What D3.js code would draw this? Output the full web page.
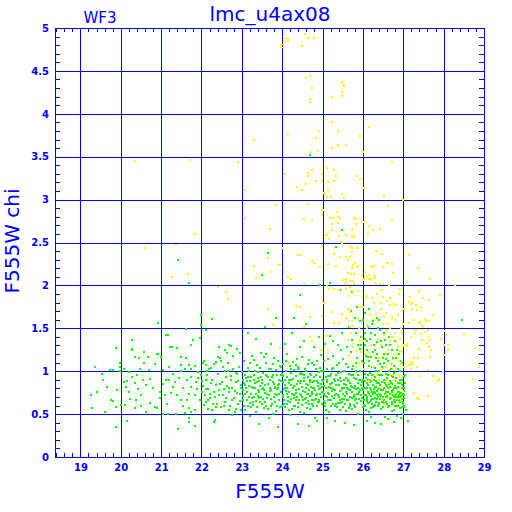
<head>
  <script src="https://d3js.org/d3.v7.min.js"></script>
  <style>
    body { margin: 0; background: #fff; }
    text { fill: #0000ff; }
  </style>
</head>
<body>
<script>
// ---- data ----
const xTicks = [19, 20, 21, 22, 23, 24, 25, 26, 27, 28, 29];
const yTicks = [0, 0.5, 1, 1.5, 2, 2.5, 3, 3.5, 4, 4.5, 5];
const yTickLabels = ['0', '0.5', '1', '1.5', '2', '2.5', '3', '3.5', '4', '4.5', '5'];

const greenPts = [
 [19.25,0.72],[19.37,1.05],[19.40,0.76],[19.28,0.57],[19.54,0.97],[19.56,0.90],[19.65,0.82],[19.74,1.01],[19.80,1.01],
 [19.75,0.66],[19.80,0.65],[19.87,0.58],[19.62,0.52],[19.87,0.35],[19.90,0.78],[19.88,1.27],[19.98,1.09],[19.99,1.05],
 [19.98,1.00],[20.08,1.02],[20.20,0.99],[20.28,1.25],[20.29,0.93],[20.16,0.89],[20.08,0.87],[20.14,0.82],[20.11,0.61],
 [20.01,0.61],[20.16,0.42],[20.24,0.68],[20.34,0.86],[20.34,1.17],[20.44,1.15],[20.57,1.22],[20.67,1.17],[20.57,1.10],
 [20.47,1.03],[20.39,0.95],[20.54,0.90],[20.62,0.84],[20.42,0.79],[20.37,0.66],[20.50,0.59],[20.62,0.52],[20.36,0.57],
 [20.71,1.01],[20.72,0.91],[20.72,0.63],[20.85,1.08],[20.90,1.20],[20.99,1.17],[21.13,1.42],[21.23,1.28],[21.40,1.27],
 [21.04,1.01],[21.12,0.90],[20.96,0.76],[21.09,0.72],[20.96,0.69],[20.89,0.57],[20.84,0.58],[21.04,0.50],[21.16,0.50],
 [21.37,0.50],[21.42,0.33],[21.30,0.97],[21.35,0.87],[21.30,0.82],[21.40,0.72],[21.50,0.67],[21.53,0.81],[21.50,1.00],
 [21.48,1.07],[21.62,1.15],[21.73,1.31],[21.78,1.36],[21.96,1.39],[21.70,1.07],[21.73,1.02],[21.85,1.06],[21.91,0.99],
 [21.75,0.93],[21.63,0.90],[21.87,0.87],[21.75,0.82],[21.90,0.79],[21.70,0.74],[21.83,0.72],[21.63,0.66],[21.96,0.66],
 [21.70,0.57],[21.73,0.52],[21.58,0.51],[21.70,0.45],[21.70,0.41],[21.83,0.36],[22.03,1.09],[22.11,1.07],[22.23,1.04],
 [22.13,1.00],[21.99,0.95],[22.11,0.90],[22.23,0.86],[22.04,0.83],[22.15,0.79],[22.30,0.76],[22.01,0.76],[22.08,0.72],
 [22.20,0.69],[22.11,0.64],[22.28,0.62],[22.36,0.58],[22.16,0.56],[22.33,0.43],[22.41,1.17],[22.49,1.12],[22.36,1.11],
 [22.44,1.28],[22.57,1.25],[22.64,1.21],[22.69,1.31],[22.74,1.29],[22.89,1.26],[22.96,1.21],[22.53,1.05],[22.66,1.00],
 [22.79,1.03],[22.89,0.97],[22.60,0.93],[22.73,0.90],[22.86,0.87],[22.97,0.84],[22.46,0.85],[22.56,0.79],[22.69,0.81],
 [22.82,0.77],[22.95,0.74],[22.44,0.72],[22.61,0.69],[22.76,0.66],[22.91,0.62],[22.55,0.60],[22.69,0.55],[22.86,0.56],
 [22.99,0.55],[22.76,0.49],[22.31,0.41],
 [21.05,0.85],[21.15,0.62],[21.20,1.05],[21.25,0.75],[21.45,0.92],[21.55,0.60],[21.60,1.02],[21.85,0.55],[21.92,0.92],
 [21.20,0.90],[20.80,0.80],[20.50,0.72],[20.20,0.76],
 [20.91,1.56],[21.16,1.42],[21.62,1.49],[21.80,1.36],[22.10,1.48],[21.98,1.66],[21.98,1.54],[21.70,2.03],[20.28,1.36],
 [20.28,1.26],[21.26,1.28],[20.91,1.20],[21.50,1.17],[21.42,2.30],[22.00,1.66],[22.26,1.61],
 [23.66,2.38],[23.49,2.12],[24.68,3.52],[25.48,2.64],[25.34,2.45],[24.94,2.00],[25.18,2.03],[25.43,1.95],[24.44,1.89],
 [25.74,1.92],[28.46,1.60],
 [22.02,0.88],[22.05,0.61],[22.07,1.12],[22.10,0.79],[22.14,0.95],[22.17,0.67],[22.19,1.02],[22.22,0.74],[22.25,0.55],
 [22.27,0.90],[22.30,1.08],[22.33,0.70],[22.35,0.84],[22.38,0.62],[22.40,0.97],[22.43,0.78],[22.46,1.15],[22.48,0.58],
 [22.51,0.87],[22.54,0.72],[22.57,1.00],[22.59,0.64],[22.62,0.83],[22.65,1.10],[22.67,0.76],[22.70,0.60],[22.72,0.94],
 [22.75,0.81],[22.78,1.18],[22.80,0.69],[22.83,0.52],[22.85,0.98],[22.88,0.75],[22.90,0.88],[22.93,1.05],[22.95,0.65],
 [22.98,0.80],
 [23.02,0.78],[23.05,1.12],[23.08,0.55],[23.10,0.92],[23.12,0.67],[23.15,1.04],[23.18,0.83],[23.20,0.48],[23.22,0.74],
 [23.25,1.18],[23.27,0.61],[23.30,0.95],[23.32,0.86],[23.35,0.52],[23.37,1.07],[23.40,0.71],[23.42,0.89],[23.45,0.64],
 [23.47,1.21],[23.50,0.79],[23.52,0.98],[23.55,0.57],[23.57,0.84],[23.60,1.10],[23.62,0.69],[23.65,0.93],[23.67,0.45],
 [23.70,0.77],[23.72,1.02],[23.75,0.62],[23.77,0.87],[23.80,1.15],[23.82,0.73],[23.85,0.54],[23.87,0.96],[23.90,0.81],
 [23.92,0.66],[23.95,1.06],[23.97,0.88],[23.03,0.66],[23.07,0.95],[23.11,0.81],[23.14,0.59],[23.17,1.00],[23.21,0.88],
 [23.24,0.69],[23.28,0.80],[23.31,1.13],[23.34,0.73],[23.38,0.58],[23.41,0.99],[23.44,0.83],[23.48,0.70],[23.51,0.90],
 [23.54,1.16],[23.58,0.75],[23.61,0.60],[23.64,0.85],[23.68,1.03],[23.71,0.68],[23.74,0.93],[23.78,0.50],[23.81,0.82],
 [23.84,1.01],[23.88,0.72],[23.91,0.90],[23.94,0.58],[23.98,0.76],[23.15,1.45],[23.35,1.38],[23.58,1.52],[23.72,1.32],
 [23.85,1.62],[23.42,0.38],[23.90,0.35],[23.06,0.86],[23.19,0.63],[23.29,0.90],[23.39,0.78],[23.49,0.62],[23.59,0.96],
 [23.69,0.80],[23.79,0.70],[23.89,0.84],[23.99,0.97],
 [23.01,0.99],[23.04,0.71],[23.06,0.60],[23.09,0.84],[23.13,0.76],[23.16,0.93],[23.19,1.09],[23.23,0.58],[23.26,0.82],
 [23.29,0.70],[23.33,1.00],[23.36,0.65],[23.39,0.92],[23.43,0.76],[23.46,1.04],[23.49,0.86],[23.53,0.68],[23.56,0.78],
 [23.59,1.20],[23.63,0.73],[23.66,0.56],[23.69,0.90],[23.73,0.78],[23.76,1.08],[23.79,0.85],[23.83,0.64],[23.86,0.79],
 [23.89,1.12],[23.93,0.74],[23.96,0.95],[23.99,0.60],[23.02,0.90],[23.08,0.74],[23.13,0.88],[23.18,0.70],[23.23,0.93],
 [23.28,0.64],[23.33,0.80],[23.38,0.87],[23.43,0.69],[23.48,0.93],[23.53,0.81],[23.58,0.64],[23.63,0.94],[23.68,0.72],
 [23.73,0.60],[23.78,0.96],[23.83,0.81],[23.88,0.60],[23.93,0.85],[23.98,1.05],
 [24.01,0.72],[24.03,1.08],[24.06,0.58],[24.08,0.90],[24.10,0.77],[24.13,1.20],[24.15,0.65],[24.18,0.86],[24.20,0.49],
 [24.22,0.98],[24.25,0.74],[24.27,1.11],[24.30,0.83],[24.32,0.60],[24.35,0.94],[24.37,0.70],[24.40,1.05],[24.42,0.79],
 [24.45,0.53],[24.47,0.88],[24.50,1.17],[24.52,0.67],[24.55,0.92],[24.57,0.76],[24.60,1.00],[24.62,0.57],[24.65,0.84],
 [24.67,1.13],[24.70,0.71],[24.72,0.95],[24.75,0.62],[24.77,0.81],[24.80,1.07],[24.82,0.46],[24.85,0.89],[24.87,0.73],
 [24.90,0.99],[24.92,0.64],[24.95,0.85],[24.97,1.19],[24.02,0.87],[24.05,0.66],[24.09,1.00],[24.12,0.80],[24.16,0.55],
 [24.19,1.06],[24.23,0.68],[24.26,0.91],[24.29,0.59],[24.33,0.78],[24.36,1.14],[24.39,0.63],[24.43,0.97],[24.46,0.72],
 [24.49,0.82],[24.53,0.51],[24.56,1.03],[24.59,0.69],[24.63,0.93],[24.66,0.78],[24.69,0.56],[24.73,1.10],[24.76,0.87],
 [24.79,0.67],[24.83,0.96],[24.86,0.60],[24.89,0.83],[24.93,1.04],[24.96,0.70],[24.99,0.90],[24.04,0.79],[24.11,0.93],
 [24.14,0.70],[24.21,0.84],[24.24,0.56],[24.28,1.01],[24.34,0.75],[24.38,0.88],[24.41,0.66],[24.48,0.97],[24.51,0.77],
 [24.58,0.85],[24.61,0.74],[24.64,0.65],[24.68,0.90],[24.71,0.82],[24.74,0.74],[24.78,0.93],[24.81,0.78],[24.84,0.68],
 [24.88,0.86],[24.91,0.79],[24.94,0.74],[24.98,0.62],[24.07,1.32],[24.25,1.45],[24.40,0.38],[24.55,1.35],[24.66,0.36],
 [24.80,1.28],[24.92,1.40],[24.30,1.62],[24.60,1.55],[24.85,0.42],[24.44,1.28],
 [24.01,0.94],[24.04,0.62],[24.07,0.81],[24.10,1.12],[24.13,0.73],[24.17,0.90],[24.20,0.64],[24.23,1.03],[24.26,0.80],
 [24.30,0.69],[24.33,1.07],[24.36,0.85],[24.40,0.58],[24.43,0.74],[24.46,0.98],[24.50,0.61],[24.53,0.88],[24.56,0.68],
 [24.60,0.80],[24.63,1.08],[24.66,0.62],[24.70,0.97],[24.73,0.76],[24.76,0.59],[24.80,0.88],[24.83,0.72],[24.86,1.12],
 [24.90,0.66],[24.93,0.81],[24.96,1.00],[24.99,0.76],[24.03,0.70],[24.08,0.84],[24.13,0.62],[24.18,0.76],[24.23,0.90],
 [24.28,0.72],[24.33,0.66],[24.38,1.02],[24.43,0.86],[24.48,0.70],[24.53,0.95],[24.58,0.63],[24.63,0.74],[24.68,0.87],
 [24.73,0.66],[24.78,0.80],[24.83,1.02],[24.88,0.64],[24.93,0.93],[24.98,0.82],
 [25.01,0.76],[25.03,1.12],[25.05,0.59],[25.08,0.93],[25.10,0.70],[25.12,1.03],[25.15,0.82],[25.17,0.52],[25.20,0.97],
 [25.22,0.66],[25.25,1.18],[25.27,0.79],[25.30,0.60],[25.32,0.89],[25.35,1.07],[25.37,0.72],[25.40,0.84],[25.42,0.55],
 [25.45,0.99],[25.47,0.68],[25.50,1.14],[25.52,0.80],[25.55,0.62],[25.57,0.92],[25.60,0.74],[25.62,1.05],[25.65,0.57],
 [25.67,0.86],[25.70,1.22],[25.72,0.69],[25.75,0.95],[25.77,0.61],[25.80,0.83],[25.82,1.10],[25.85,0.73],[25.87,0.50],
 [25.90,0.90],[25.92,1.26],[25.95,0.65],[25.97,0.87],[25.02,0.88],[25.06,0.71],[25.09,0.55],[25.13,0.94],[25.16,0.67],
 [25.19,0.85],[25.23,1.02],[25.26,0.62],[25.29,0.91],[25.33,0.74],[25.36,0.58],[25.39,0.98],[25.43,0.77],[25.46,0.88],
 [25.49,0.64],[25.53,1.00],[25.56,0.71],[25.59,0.84],[25.63,0.66],[25.66,0.97],[25.69,0.78],[25.73,0.56],[25.76,1.06],
 [25.79,0.70],[25.83,0.91],[25.86,0.63],[25.89,0.80],[25.93,1.00],[25.96,0.72],[25.99,0.58],[25.04,0.65],[25.11,0.87],
 [25.14,0.75],[25.21,0.80],[25.24,0.71],[25.31,0.78],[25.34,0.95],[25.41,0.70],[25.44,0.63],[25.51,0.73],[25.54,0.90],
 [25.58,0.54],[25.61,0.80],[25.64,0.89],[25.68,0.70],[25.71,0.83],[25.74,0.76],[25.78,0.92],[25.81,0.67],[25.84,0.79],
 [25.88,0.95],[25.91,0.76],[25.94,0.84],[25.98,0.69],[25.05,1.32],[25.18,1.41],[25.30,0.42],[25.38,1.30],[25.48,1.45],
 [25.55,0.40],[25.60,1.28],[25.66,1.52],[25.72,1.36],[25.78,0.37],[25.84,1.44],[25.88,1.30],[25.93,1.58],[25.96,1.40],
 [25.45,1.25],[25.25,1.35],[25.12,0.45],[25.80,1.62],[25.70,1.70],[25.86,1.75],
 [25.01,1.00],[25.04,0.83],[25.07,0.63],[25.10,0.90],[25.13,1.14],[25.17,0.74],[25.20,0.60],[25.23,0.86],[25.27,1.04],
 [25.30,0.72],[25.33,0.62],[25.37,0.90],[25.40,1.10],[25.43,0.67],[25.47,0.80],[25.50,0.58],[25.53,0.85],[25.57,1.08],
 [25.60,0.66],[25.63,0.79],[25.67,0.62],[25.70,0.95],[25.73,0.82],[25.77,0.72],[25.80,0.58],[25.83,1.00],[25.87,0.86],
 [25.90,0.68],[25.93,0.78],[25.97,1.12],[25.03,0.73],[25.08,0.80],[25.13,0.66],[25.18,0.94],[25.23,0.77],[25.28,0.69],
 [25.33,0.84],[25.38,0.63],[25.43,0.92],[25.48,0.79],[25.53,0.68],[25.58,0.76],[25.63,0.90],[25.68,0.60],[25.73,1.02],
 [25.78,0.80],[25.83,0.68],[25.88,0.74],[25.93,0.90],[25.98,0.80],
 [26.01,0.78],[26.03,1.10],[26.05,0.60],[26.07,0.92],[26.09,0.70],[26.11,1.25],[26.13,0.84],[26.15,0.53],[26.17,0.98],
 [26.19,0.66],[26.21,1.16],[26.23,0.76],[26.25,0.58],[26.27,0.90],[26.29,1.04],[26.31,0.69],[26.33,0.82],[26.35,1.34],
 [26.37,0.60],[26.39,0.95],[26.41,0.73],[26.43,1.08],[26.45,0.56],[26.47,0.87],[26.49,0.65],[26.51,1.20],[26.53,0.80],
 [26.55,0.62],[26.57,0.97],[26.59,0.71],[26.61,1.12],[26.63,0.58],[26.65,0.85],[26.67,0.68],[26.69,1.02],[26.71,0.77],
 [26.73,0.54],[26.75,0.93],[26.77,0.66],[26.79,0.83],[26.81,1.15],[26.83,0.60],[26.85,0.79],[26.87,0.70],[26.89,0.96],
 [26.91,0.57],[26.93,0.86],[26.95,0.66],[26.97,0.75],[26.99,0.62],[27.01,0.80],[27.03,0.69],
 [26.02,0.67],[26.04,0.88],[26.06,1.30],[26.08,0.55],[26.10,0.81],[26.12,0.63],[26.14,1.06],[26.16,0.74],[26.18,0.87],
 [26.20,0.57],[26.22,0.95],[26.24,1.22],[26.26,0.68],[26.28,0.79],[26.30,0.61],[26.32,1.00],[26.34,0.72],[26.36,0.86],
 [26.38,1.12],[26.40,0.63],[26.42,0.80],[26.44,0.96],[26.46,0.71],[26.48,1.05],[26.50,0.58],[26.52,0.90],[26.54,0.74],
 [26.56,1.14],[26.58,0.64],[26.60,0.83],[26.62,0.95],[26.64,0.70],[26.66,0.59],[26.68,0.88],[26.70,1.08],[26.72,0.64],
 [26.74,0.78],[26.76,0.55],[26.78,0.98],[26.80,0.72],[26.82,0.88],[26.84,0.66],[26.86,1.02],[26.88,0.59],[26.90,0.76],
 [26.92,0.90],[26.94,0.71],[26.96,0.58],[26.98,0.84],[27.00,0.73],[27.02,0.60],[27.04,0.86],
 [26.03,0.72],[26.06,0.97],[26.10,0.65],[26.13,0.76],[26.16,0.90],[26.20,0.71],[26.23,0.62],[26.26,0.84],[26.30,0.75],
 [26.33,0.64],[26.36,0.77],[26.40,0.86],[26.43,0.68],[26.46,0.78],[26.50,0.70],[26.53,0.66],[26.56,0.84],[26.60,0.62],
 [26.63,0.76],[26.66,0.73],[26.70,0.69],[26.73,0.85],[26.76,0.70],[26.80,0.64],[26.83,0.74],[26.86,0.82],[26.90,0.66],
 [26.93,0.75],[26.96,0.68],[27.00,0.64],[27.03,0.77],
 [26.01,0.90],[26.03,0.61],[26.05,0.80],[26.07,1.18],[26.09,0.86],[26.11,0.68],[26.13,0.95],[26.15,1.12],[26.17,0.64],
 [26.19,0.78],[26.21,0.88],[26.23,1.05],[26.25,0.73],[26.27,0.60],[26.29,0.82],[26.31,0.93],[26.33,1.15],[26.35,0.68],
 [26.37,0.79],[26.39,0.62],[26.41,1.00],[26.43,0.84],[26.45,0.72],[26.47,0.96],[26.49,0.78],[26.51,0.63],[26.53,1.10],
 [26.55,0.86],[26.57,0.70],[26.59,0.92],[26.61,0.60],[26.63,0.81],[26.65,1.00],[26.67,0.74],[26.69,0.86],[26.71,0.62],
 [26.73,0.94],[26.75,0.72],[26.77,1.06],[26.79,0.60],[26.81,0.80],[26.83,0.92],[26.85,0.66],[26.87,0.86],[26.89,0.72],
 [26.91,1.00],[26.93,0.64],[26.95,0.80],[26.97,0.90],[26.99,0.72],[27.01,0.94],[27.03,0.58],
 [26.02,0.80],[26.07,0.72],[26.12,0.90],[26.17,0.80],[26.22,0.68],[26.27,0.76],[26.32,0.88],[26.37,0.70],[26.42,0.72],
 [26.47,0.64],[26.52,0.78],[26.57,0.76],[26.62,0.70],[26.67,0.82],[26.72,0.76],[26.77,0.80],[26.82,0.70],[26.87,0.76],
 [26.92,0.70],[26.97,0.80],[27.02,0.72],
 [25.85,1.15],[25.95,1.30],[26.05,1.38],[26.12,1.16],[26.20,1.45],[26.28,1.30],[26.35,1.20],[26.42,1.48],[26.48,1.28],
 [26.55,1.36],[26.62,1.20],[26.68,1.30],[26.75,1.15],[26.85,1.25],[26.92,1.12],[26.22,1.55],[26.40,1.60],[26.10,1.35],
 [26.30,1.25],[26.50,1.15],
 [26.05,1.45],[26.12,1.52],[26.18,1.38],[26.25,1.58],[26.30,1.42],[26.38,1.50],[26.45,1.35],[26.52,1.45],[26.58,1.30],
 [26.65,1.40],[26.72,1.25],[26.80,1.35],[26.90,1.20],[26.98,1.10],[26.10,0.42],[26.30,0.40],[26.45,0.38],[26.62,0.44],
 [26.78,0.41],[26.95,0.46],[27.00,0.50],[26.85,0.48],[26.55,0.47],[26.20,0.47],[26.05,1.68],[26.15,1.72],[26.00,1.60],
 [26.35,1.62],[27.06,0.55],[27.12,0.42],[27.05,0.95]
];

const yellowPts = [
 [24.56,4.93],[24.64,4.88],[24.80,4.88],[24.48,4.79],[24.70,4.44],[24.58,4.42],[24.75,4.30],[24.68,4.17],[24.68,4.14],
 [25.48,4.37],[25.52,4.33],[25.54,4.32],[25.49,4.25],[25.49,4.21],[25.23,4.20],[25.23,3.90],[25.38,3.80],[26.14,3.85],
 [24.90,3.80],[24.14,3.76],[23.29,3.69],[24.83,3.72],[25.92,3.74],[25.23,3.60],[25.39,3.64],[25.39,3.62],[25.57,3.64],
 [24.88,3.57],[24.68,3.55],[25.99,3.55],[23.06,3.11],[24.04,3.30],[24.65,3.31],[24.65,3.27],[24.75,3.35],[25.10,3.37],
 [25.29,3.35],[24.99,3.30],[25.34,3.28],[25.85,3.28],[25.92,3.24],[24.83,3.22],[24.99,3.22],[25.14,3.21],[25.28,3.22],
 [24.60,3.18],[24.37,3.15],[24.48,3.11],[25.14,3.11],[25.04,3.08],[25.49,3.07],[25.10,3.03],[25.20,3.03],[26.02,3.13],
 [25.52,3.02],[26.72,3.44],[26.53,3.04],[27.00,3.00],[23.84,2.94],[24.63,2.95],[26.63,2.93],[23.09,2.79],[25.01,2.88],
 [25.36,2.85],[25.39,2.80],[25.18,2.79],[25.26,2.78],[25.43,2.78],[24.55,2.77],[24.75,2.76],[24.98,2.82],[25.79,2.79],
 [25.82,2.77],[26.02,2.74],[25.82,2.72],[26.72,2.76],[25.24,2.72],[25.39,2.73],[26.14,2.69],[26.42,2.66],[26.25,2.65],
 [25.23,2.65],[25.72,2.65],[25.13,2.62],[25.57,2.59],[26.12,2.60],[23.69,2.66],[25.08,2.59],[25.72,2.58],[25.79,2.56],
 [25.41,2.58],[25.16,2.54],[25.43,2.51],[23.99,2.44],[24.98,2.46],[25.72,2.44],[25.85,2.44],
 [25.72,2.39],[26.32,2.40],[26.47,2.37],[24.37,2.36],[24.45,2.36],[23.94,2.24],[25.29,2.37],[25.13,2.25],[24.93,2.22],
 [24.75,2.29],[24.78,2.26],[25.43,2.33],[25.67,2.33],[25.62,2.30],[25.76,2.24],[25.33,2.23],[25.85,2.22],[25.72,2.20],
 [23.31,2.23],[26.04,2.16],[26.22,2.22],[26.25,2.22],[26.50,2.21],[26.60,2.26],[26.73,2.25],[27.15,2.36],[27.36,2.20],
 [27.66,2.08],[23.69,2.16],[23.36,2.09],[24.14,2.10],[24.23,2.08],[24.55,2.03],[25.59,2.08],[25.67,2.05],[25.76,2.05],
 [26.00,2.06],[26.15,2.07],[26.27,2.09],[25.97,2.12],[26.09,2.10],[25.56,2.02],[26.32,2.02],[26.42,2.02],[26.50,2.02],
 [26.65,2.00],[26.92,1.96],[27.10,2.04],[27.50,1.85],[25.11,1.99],[25.16,1.96],[25.28,1.96],[25.41,1.95],[25.57,1.96],
 [25.67,1.98],[25.76,1.93],[25.89,1.94],[25.66,1.88],[26.09,1.88],[26.22,1.85],[26.50,1.86],
 [25.47,2.50],[25.69,2.46],[25.87,2.44],[25.74,2.39],[25.57,2.33],[25.80,2.26],[25.89,2.23],[26.20,2.23],[26.27,2.23],
 [26.63,2.26],[26.75,2.14],[25.62,2.14],[25.71,2.13],[25.77,2.13],[26.15,2.12],[26.30,2.11],[25.51,2.06],[25.59,2.04],
 [25.79,2.02],[26.02,2.07],[26.19,2.07],[26.30,2.03],[28.27,2.01],[27.38,1.94],[27.64,1.83],[27.91,1.89],
 [28.51,1.43],[28.77,1.27],[28.87,1.05],[28.72,0.91],[28.11,1.31],[28.12,1.25],[28.07,1.42],[27.94,1.37],[27.66,1.36],
 [27.49,1.52],[27.61,1.48],[27.31,1.48],[27.44,1.43],[27.46,1.36],[27.18,1.40],[27.64,1.59],[27.74,1.66],[27.53,1.61],
 [27.41,1.57],[27.25,1.60],[27.13,1.56],[27.35,1.71],[27.21,1.73],[27.16,1.86],[27.13,1.81],[27.18,1.78],[27.43,1.75],
 [28.04,1.47],[28.02,1.30],[27.38,1.26],[27.26,1.15],[27.33,1.05],[27.10,1.29],[27.10,1.32],[27.61,1.01],[27.38,0.94],
 [27.76,0.94],[27.89,0.91],[27.99,0.99],[27.87,0.89],[27.74,0.94],[27.62,0.71],[27.38,0.68],[27.26,0.75],[27.18,1.08],
 [27.36,1.15],[27.66,1.17],[27.69,1.25],[27.64,1.28],[27.59,1.33],[28.12,1.30],[28.02,1.19],[27.20,1.03],[27.13,1.07],
 [20.36,3.45],[21.72,3.46],[22.91,3.44],[21.85,2.60],[20.61,2.44],[21.37,2.47],[23.64,2.32],[23.90,2.24],[21.27,2.10],
 [21.67,2.13],[22.40,1.98],[22.60,1.92],[22.66,1.84],[23.64,1.73],
 [23.77,1.54],[24.33,1.76],[24.45,1.75],[24.70,1.63],[24.98,1.64],[25.04,1.79],[24.53,1.51],[24.68,1.40],[25.08,1.41],
 [24.73,1.35],[24.96,1.25],[25.13,1.25],[23.94,1.27],[24.18,1.10],[25.21,1.69],[25.29,1.56],[25.41,1.56],[25.48,1.67],
 [25.64,1.73],[25.67,1.69],[25.59,1.61],[25.74,1.58],[25.76,1.53],[25.67,1.52],[25.62,1.36],[25.76,1.32],[25.84,1.24],
 [26.00,1.75],[26.44,1.80],[26.67,1.77],[26.83,1.77],[27.01,1.73],[27.21,1.80],[27.31,1.77],[27.39,1.56],[27.47,1.54],
 [27.57,1.59],[27.29,1.48],[27.28,1.44],[27.53,1.46],[27.63,1.40],[27.18,1.11],[27.24,1.08],[27.33,0.69],[26.10,1.54],
 [26.24,1.61],[26.33,1.67],[26.53,1.63],[26.59,1.48],[26.73,1.40],[26.83,1.34],[26.96,1.45],[26.99,1.29],[26.93,1.24],
 [26.30,0.72],[26.35,0.95],[26.40,1.15],[26.42,0.82],[26.45,1.30],[26.48,0.66],[26.50,1.02],[26.52,1.42],[26.55,0.78],
 [26.57,1.20],[26.60,0.90],[26.62,1.55],[26.64,0.70],[26.66,1.08],[26.68,1.35],[26.70,0.84],[26.72,1.62],[26.74,0.96],
 [26.76,1.18],[26.78,0.74],[26.80,1.45],[26.82,1.02],[26.84,0.88],[26.86,1.28],[26.88,0.68],[26.90,1.12],[26.92,0.80],
 [26.94,1.50],[26.96,0.93],[26.98,1.22],[27.00,0.76],[27.02,1.05],[26.20,1.30],[26.25,1.05],[26.15,0.88],[26.10,1.50],
 [26.05,1.20],[25.98,1.40],[25.92,1.10],[25.88,1.62],[25.85,0.98],[26.33,1.60],[26.38,1.38],[26.44,1.72],[26.58,1.68],
 [26.66,1.85],[26.74,1.40],[26.86,1.65],[26.92,1.38],[26.99,1.55],[26.46,1.00],[26.54,0.62],[26.61,1.25],[26.69,0.60],
 [26.77,0.90],[26.83,1.20],[26.89,0.95],[26.95,0.66],[27.03,1.30],[26.71,1.10],[26.63,0.86],[26.56,1.05],[26.49,1.18],
 [26.41,0.90],[26.28,1.18],[26.22,0.92],[26.12,1.22],[26.02,1.02],[25.95,1.75],[25.90,1.35],[26.08,1.85],[26.18,1.65],
 [26.27,1.80],[26.36,1.90],[26.48,1.95],[26.60,1.82],[26.78,1.78],[26.90,1.90],[26.96,1.75],[26.50,1.55],[26.80,1.60],
 [26.68,1.50],[26.75,1.02],[26.85,0.78],[26.94,1.08],[26.58,0.74],[26.66,0.96],[26.72,0.70],[26.98,0.86],[26.90,0.62],
 [25.65,1.18],[25.75,1.28],[25.82,1.05],[25.95,1.22],[25.70,1.45],[25.60,1.62],[25.90,1.50],[26.00,1.35]
];

// a few yellow points drawn as open squares
const yellowHollow = [[24.12,4.86],[24.00,4.79]];

// ---- layout ----
const W = 512, H = 512;
const pLeft = 55, pRight = 484, pTop = 28, pBottom = 457;

const svg = d3.select('body').append('svg')
  .attr('width', W).attr('height', H)
  .style('font-family', '"DejaVu Sans", sans-serif');

svg.append('rect').attr('width', W).attr('height', H).attr('fill', '#fff');

const x = d3.scaleLinear().domain([18.37, 29]).range([pLeft, pRight]);
const y = d3.scaleLinear().domain([0, 5]).range([pBottom, pTop]);

const blue = '#0000ff';

// grid lines
svg.append('g')
  .attr('transform', `translate(0,${pBottom})`)
  .call(d3.axisBottom(x).tickValues(xTicks).tickSize(-(pBottom - pTop)).tickFormat(''));
svg.append('g')
  .attr('transform', `translate(${pLeft},0)`)
  .call(d3.axisLeft(y).tickValues(yTicks).tickSize(-(pRight - pLeft)).tickFormat(''));

// minor ticks, all four sides
const minorX = d3.range(18.4, 29.001, 0.2);
const minorY = d3.range(0, 5.001, 0.1);
svg.append('g').attr('transform', `translate(0,${pBottom})`)
  .call(d3.axisBottom(x).tickValues(minorX).tickSize(-4).tickFormat(''));
svg.append('g').attr('transform', `translate(0,${pTop})`)
  .call(d3.axisTop(x).tickValues(minorX).tickSize(-4).tickFormat(''));
svg.append('g').attr('transform', `translate(${pLeft},0)`)
  .call(d3.axisLeft(y).tickValues(minorY).tickSize(-5).tickFormat(''));
svg.append('g').attr('transform', `translate(${pRight},0)`)
  .call(d3.axisRight(y).tickValues(minorY).tickSize(-5).tickFormat(''));

svg.selectAll('.domain').remove();
svg.selectAll('.tick line').attr('stroke', blue).attr('shape-rendering', 'crispEdges');

// frame
svg.append('rect')
  .attr('x', pLeft).attr('y', pTop)
  .attr('width', pRight - pLeft).attr('height', pBottom - pTop)
  .attr('fill', 'none').attr('stroke', blue)
  .attr('shape-rendering', 'crispEdges');

// tick labels
const lx = svg.append('g')
  .attr('transform', `translate(0,${pBottom})`)
  .call(d3.axisBottom(x).tickValues(xTicks).tickSize(0).tickPadding(7).tickFormat(d3.format('d')));
const ly = svg.append('g')
  .attr('transform', `translate(${pLeft},0)`)
  .call(d3.axisLeft(y).tickValues(yTicks).tickSize(0).tickPadding(6)
    .tickFormat((d, i) => yTickLabels[i]));
[lx, ly].forEach(g => {
  g.select('.domain').remove();
  g.selectAll('text').attr('fill', blue).style('font-size', '10px').style('font-weight', 'bold')
    .attr('font-family', '"DejaVu Sans", sans-serif');
});

// points
function drawPts(pts, color) {
  svg.append('g').selectAll('rect')
    .data(pts)
    .enter()
    .append('rect')
    .attr('x', d => Math.round(x(d[0])) - 1)
    .attr('y', d => Math.round(y(d[1])) - 1)
    .attr('width', 2).attr('height', 2)
    .attr('fill', color)
    .attr('shape-rendering', 'crispEdges');
}
drawPts(greenPts, '#00ff00');
drawPts(yellowPts, '#ffff00');

svg.append('g').selectAll('rect')
  .data(yellowHollow)
  .enter()
  .append('rect')
  .attr('x', d => Math.round(x(d[0])) - 1.5)
  .attr('y', d => Math.round(y(d[1])) - 1.5)
  .attr('width', 3).attr('height', 3)
  .attr('fill', 'none').attr('stroke', '#ffff00')
  .attr('shape-rendering', 'crispEdges');

// titles
svg.append('text').attr('x', 270).attr('y', 21).attr('text-anchor', 'middle')
  .style('font-size', '20px').text('lmc_u4ax08');
svg.append('text').attr('x', 100).attr('y', 23).attr('text-anchor', 'middle')
  .style('font-size', '15px').text('WF3');
svg.append('text').attr('x', 270).attr('y', 498).attr('text-anchor', 'middle')
  .style('font-size', '20px').text('F555W');
svg.append('text').attr('transform', 'translate(19,241) rotate(-90)').attr('text-anchor', 'middle')
  .style('font-size', '20px').text('F555W  chi');
</script>
</body>
